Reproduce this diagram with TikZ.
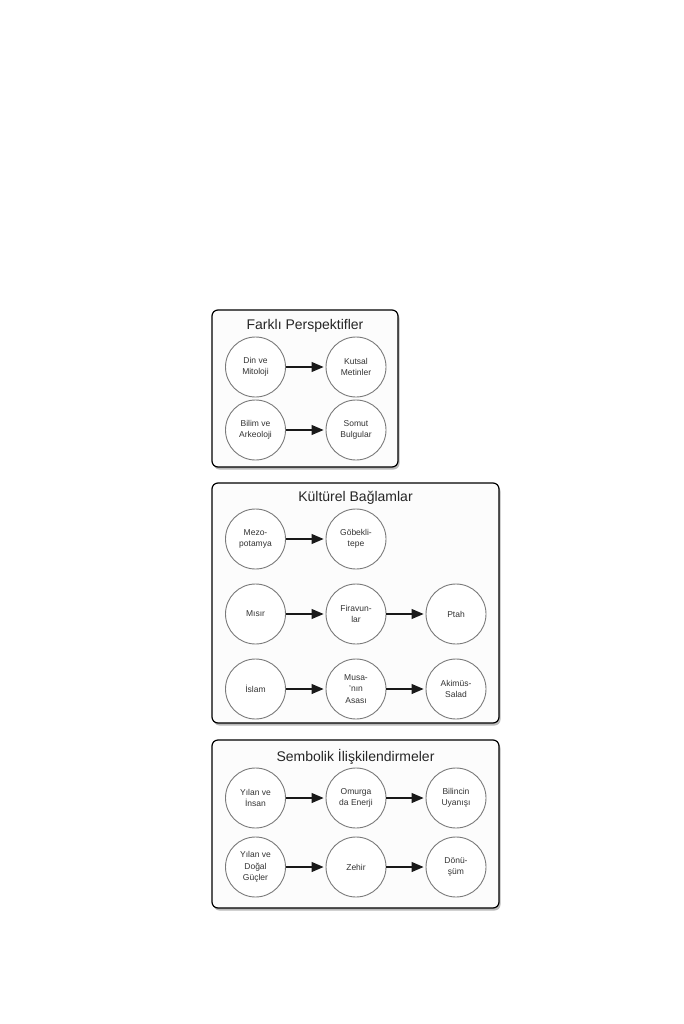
\documentclass[tikz,border=0pt]{standalone}
\usepackage{fontspec}
\setmainfont{Liberation Sans}
\usetikzlibrary{arrows.meta,shadows}
\definecolor{panelfill}{HTML}{FCFCFC}
\definecolor{circgray}{HTML}{7A7A7A}
\begin{document}
\begin{tikzpicture}[x=1pt,y=-1pt,
  panel/.style={draw=black, line width=1.2pt, rounded corners=6pt, fill=panelfill,
    drop shadow={shadow xshift=1.5pt, shadow yshift=-2.5pt, opacity=0.55}},
  ptitle/.style={font=\fontsize{14}{16}\selectfont, text=black!85},
  circ/.style={circle, draw=circgray, line width=0.9pt, fill=white, minimum size=60pt,
    inner sep=0pt, align=center, font=\fontsize{8.5}{11.5}\selectfont, text=black!80},
  arr/.style={-{Triangle[length=12pt,width=10pt]}, line width=1.1pt, black!90, shorten >=2pt}]
\fill[white] (0,0) rectangle (683,1024);
\useasboundingbox (0,0) rectangle (683,1024);

% Panel 1
\path[panel] (212,310) rectangle (398,467);
\node[ptitle] (t1) at (305,326) {Farklı Perspektifler};
\node[circ] (a1) at (255.5,367) {Din ve\\Mitoloji};
\node[circ] (a2) at (356,367) {Kutsal\\Metinler};
\node[circ] (a3) at (255.5,430) {Bilim ve\\Arkeoloji};
\node[circ] (a4) at (356,430) {Somut\\Bulgular};
\draw[arr] (a1) -- (a2);
\draw[arr] (a3) -- (a4);

% Panel 2
\path[panel] (212,483) rectangle (499,723);
\node[ptitle] (t2) at (355.5,498) {Kültürel Bağlamlar};
\node[circ] (b1) at (255.5,539) {Mezo-\\potamya};
\node[circ] (b2) at (356,539) {Göbekli-\\tepe};
\node[circ] (b3) at (255.5,614) {Mısır};
\node[circ] (b4) at (356,614) {Firavun-\\lar};
\node[circ] (b5) at (456,614) {Ptah};
\node[circ] (b6) at (255.5,689) {İslam};
\node[circ] (b7) at (356,689) {Musa-\\’nın\\Asası};
\node[circ] (b8) at (456,689) {Akimüs-\\Salad};
\draw[arr] (b1) -- (b2);
\draw[arr] (b3) -- (b4);
\draw[arr] (b4) -- (b5);
\draw[arr] (b6) -- (b7);
\draw[arr] (b7) -- (b8);

% Panel 3
\path[panel] (212,740) rectangle (499,908);
\node[ptitle] (t3) at (355.5,757) {Sembolik İlişkilendirmeler};
\node[circ] (c1) at (255.5,798) {Yılan ve\\İnsan};
\node[circ] (c2) at (356,798) {Omurga\\da Enerji};
\node[circ] (c3) at (456,798) {Bilincin\\Uyanışı};
\node[circ] (c4) at (255.5,867) {Yılan ve\\Doğal\\Güçler};
\node[circ] (c5) at (356,867) {Zehir};
\node[circ] (c6) at (456,867) {Dönü-\\şüm};
\draw[arr] (c1) -- (c2);
\draw[arr] (c2) -- (c3);
\draw[arr] (c4) -- (c5);
\draw[arr] (c5) -- (c6);
\end{tikzpicture}
\end{document}
